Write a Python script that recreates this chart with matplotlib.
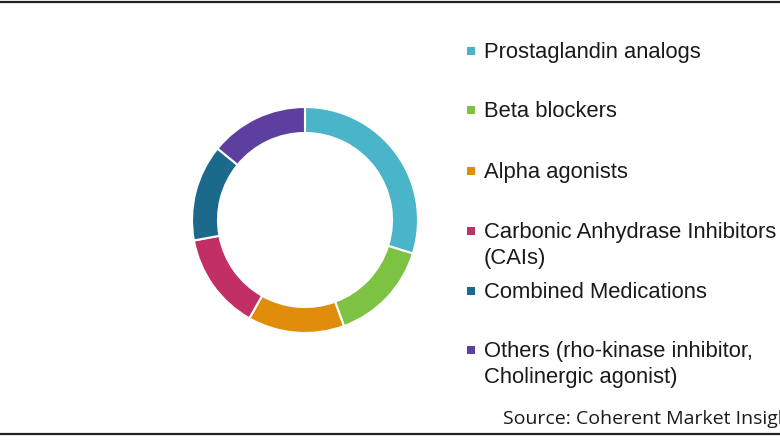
import matplotlib
matplotlib.use("Agg")
import matplotlib.pyplot as plt
from matplotlib.patches import Rectangle
from matplotlib.lines import Line2D

categories = ["Prostaglandin analogs", "Beta blockers", "Alpha agonists",
              "Carbonic Anhydrase Inhibitors\n(CAIs)", "Combined Medications",
              "Others (rho-kinase inhibitor,\nCholinergic agonist)"]
values = [29.8, 14.6, 13.8, 13.9, 13.8, 14.1]
colors = ["#4AB4C8", "#7DC242", "#E08D0B", "#C22F64", "#1B6A8C", "#5D3FA0"]
source = "Source: Coherent Market Insights"

W, H = 780, 440
fig = plt.figure(figsize=(W / 100, H / 100), dpi=100)
fig.patch.set_facecolor("white")

cx, cy, R = 305, 220, 113
ax = fig.add_axes([(cx - R) / W, (H - cy - R) / H, 2 * R / W, 2 * R / H])
ax.pie(values, colors=colors, startangle=90, counterclock=False, radius=1.0,
       wedgeprops=dict(width=0.23, edgecolor="white", linewidth=1.5))
ax.set_xlim(-1.0, 1.0)
ax.set_ylim(-1.0, 1.0)
ax.set_aspect("equal")
ax.axis("off")

def fx(x):
    return x / W

def fy(y):
    return 1 - y / H

# legend (manual)
first_baselines = [58, 117, 178, 238, 298, 357]
line_gap = 26
for lab, col, yb in zip(categories, colors, first_baselines):
    fig.add_artist(Rectangle((fx(467), fy(yb - 3)), 8 / W, 8 / H,
                             transform=fig.transFigure, facecolor=col,
                             edgecolor="none"))
    for i, line in enumerate(lab.split("\n")):
        fig.text(fx(484), fy(yb + i * line_gap), line, fontsize=15.8,
                 family="Liberation Sans", color="#1a1a1a", va="baseline",
                 ha="left")

fig.text(fx(503), fy(424), source, fontsize=14, family="Open Sans",
         color="#1a1a1a", va="baseline", ha="left")

# border lines
fig.add_artist(Line2D([0, 1], [fy(2), fy(2)], transform=fig.transFigure,
                      color="#222222", linewidth=1.6))
fig.add_artist(Line2D([0, 1], [fy(434), fy(434)], transform=fig.transFigure,
                      color="#222222", linewidth=1.6))

fig.savefig("out.png", dpi=100, facecolor="white")
